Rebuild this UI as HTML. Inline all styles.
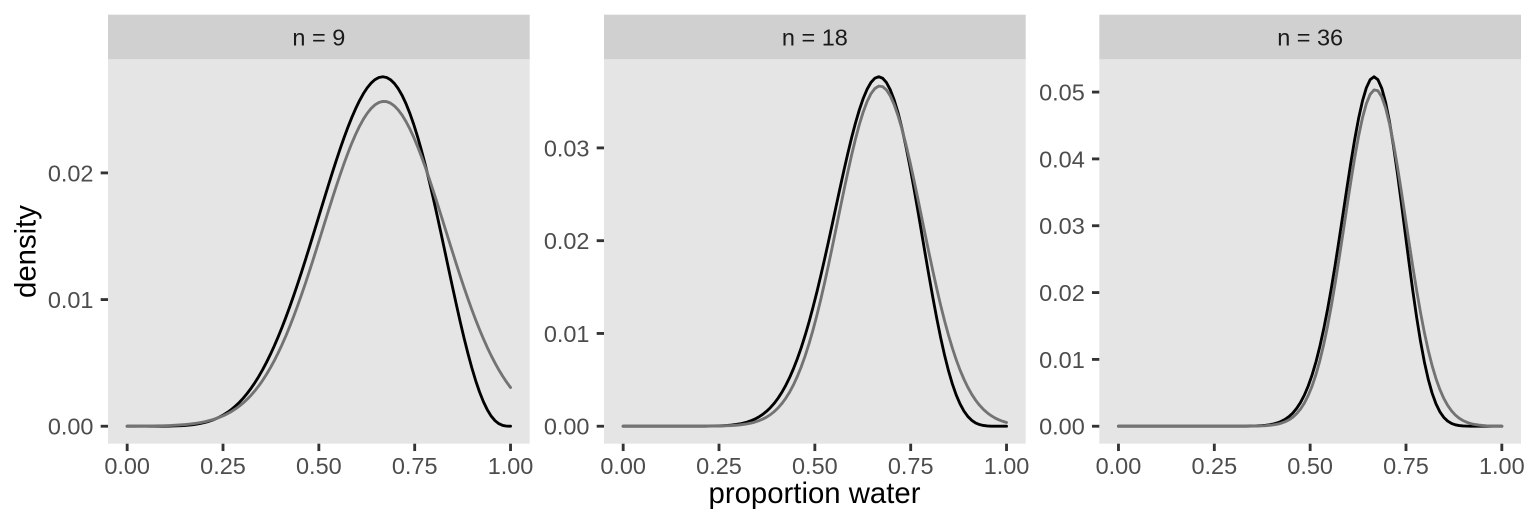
<!DOCTYPE html>
<html>
<head>
<meta charset="utf-8">
<style>
html,body{margin:0;padding:0;background:#ffffff;}
svg{display:block;}
text{font-family:"Liberation Sans",Arial,sans-serif;}
</style>
</head>
<body>
<svg id="chart" width="1536" height="528" viewBox="0 0 1536 528" xmlns="http://www.w3.org/2000/svg">
  <rect x="0" y="0" width="1536" height="528" fill="#ffffff"/>
  <!-- panels -->
  <rect x="108" y="59.3" width="421.7" height="384.4" fill="#e5e5e5"/>
  <rect x="604" y="59.3" width="421.7" height="384.4" fill="#e5e5e5"/>
  <rect x="1099.3" y="59.3" width="421.7" height="384.4" fill="#e5e5e5"/>
  <!-- strips -->
  <rect x="108" y="14.7" width="421.7" height="44.6" fill="#d0d0d0"/>
  <rect x="604" y="14.7" width="421.7" height="44.6" fill="#d0d0d0"/>
  <rect x="1099.3" y="14.7" width="421.7" height="44.6" fill="#d0d0d0"/>
  <text x="318.85" y="45.3" font-size="23.47" fill="#1a1a1a" text-anchor="middle">n = 9</text>
  <text x="814.85" y="45.3" font-size="23.47" fill="#1a1a1a" text-anchor="middle">n = 18</text>
  <text x="1310.15" y="45.3" font-size="23.47" fill="#1a1a1a" text-anchor="middle">n = 36</text>
  <!-- axis titles -->
  <text x="814.5" y="503" font-size="29.33" fill="#000000" text-anchor="middle">proportion water</text>
  <text transform="translate(35.5,251.5) rotate(-90)" x="0" y="0" font-size="29.33" fill="#000000" text-anchor="middle">density</text>
  <g id="dyn"></g>
</svg>
<script>
(function(){
  var svg = document.getElementById('dyn');
  var NS = 'http://www.w3.org/2000/svg';
  var lefts = [108, 604, 1099.3];
  var W = 421.7, top = 59.3, bottom = 443.7, H = bottom - top;
  var cfg = [{n:9,w:6,s:0.16},{n:18,w:12,s:0.11},{n:36,w:24,s:0.08}];
  var N = 100;
  function el(name, attrs, txt){
    var e = document.createElementNS(NS, name);
    for (var k in attrs) e.setAttribute(k, attrs[k]);
    if (txt !== undefined) e.textContent = txt;
    svg.appendChild(e);
    return e;
  }
  for (var pi = 0; pi < 3; pi++){
    var c = cfg[pi], L = lefts[pi];
    var ps = [], g = [], q = [], sg = 0, sq = 0;
    for (var i = 0; i < N; i++){
      var p = i/(N-1);
      ps.push(p);
      var lik = Math.pow(p, c.w) * Math.pow(1-p, c.n - c.w);
      var z = (p - 0.67)/c.s;
      var dn = Math.exp(-0.5*z*z)/(c.s*Math.sqrt(2*Math.PI));
      g.push(lik); q.push(dn); sg += lik; sq += dn;
    }
    var M = 0;
    for (var i = 0; i < N; i++){ g[i] /= sg; q[i] /= sq; if (g[i] > M) M = g[i]; if (q[i] > M) M = q[i]; }
    var X = function(v){ return L + (v + 0.05)/1.1*W; };
    var Y = function(v){ return bottom - (v + 0.05*M)/(1.1*M)*H; };
    // y ticks
    var maxT = Math.floor(1.05*M/0.01 + 1e-9);
    for (var t = 0; t <= maxT; t++){
      var yy = Y(t*0.01);
      el('line', {x1:L-7.33, x2:L, y1:yy, y2:yy, stroke:'#333333', 'stroke-width':2.85});
      el('text', {x:L-14.5, y:yy+8.4, 'font-size':23.47, fill:'#4d4d4d', 'text-anchor':'end'}, (t*0.01).toFixed(2));
    }
    // x ticks
    var xt = [0, 0.25, 0.5, 0.75, 1];
    for (var k = 0; k < xt.length; k++){
      var xx = X(xt[k]);
      el('line', {x1:xx, x2:xx, y1:bottom, y2:bottom+7.33, stroke:'#333333', 'stroke-width':2.85});
      el('text', {x:xx, y:474, 'font-size':23.47, fill:'#4d4d4d', 'text-anchor':'middle'}, xt[k].toFixed(2));
    }
    // curves
    var d1 = '', d2 = '';
    for (var i = 0; i < N; i++){
      d1 += (i ? 'L' : 'M') + X(ps[i]).toFixed(2) + ',' + Y(g[i]).toFixed(2);
      d2 += (i ? 'L' : 'M') + X(ps[i]).toFixed(2) + ',' + Y(q[i]).toFixed(2);
    }
    el('path', {d:d1, fill:'none', stroke:'#000000', 'stroke-width':2.85, 'stroke-linejoin':'round', 'stroke-linecap':'round'});
    el('path', {d:d2, fill:'none', stroke:'#737373', 'stroke-width':2.85, 'stroke-linejoin':'round', 'stroke-linecap':'round'});
  }
})();
</script>
</body>
</html>
